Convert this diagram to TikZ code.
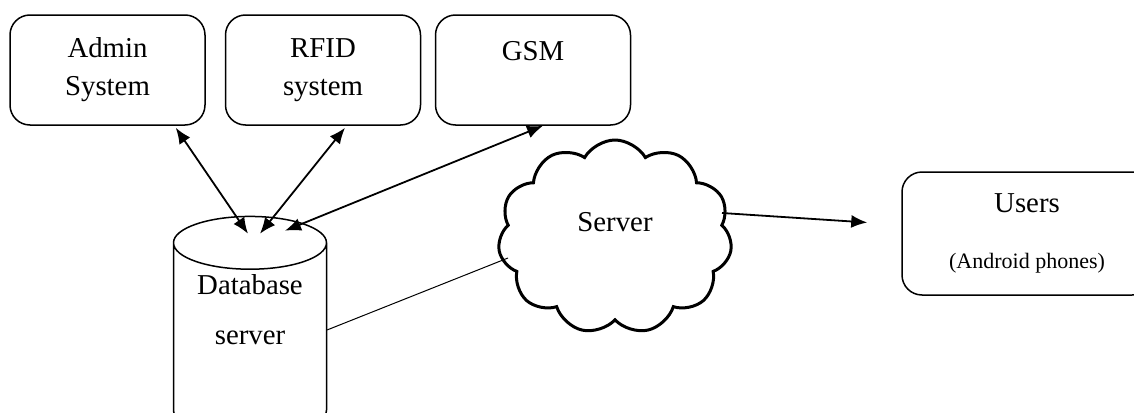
\documentclass[tikz,border=0pt]{standalone}
\usepackage{fontspec}
\setmainfont{Liberation Serif}
\usetikzlibrary{shapes.geometric,shapes.symbols,arrows.meta}

\begin{document}
\begin{tikzpicture}[x=0.5pt, y=-0.5pt, font=\fontsize{14.4}{19}\selectfont]
  \tikzstyle{box} = [rectangle, draw, line width=0.75pt, rounded corners=10pt, align=center,
                     minimum width=97.5pt, minimum height=55pt, inner sep=0pt]
  \tikzstyle{dbase} = [cylinder, shape border rotate=90, draw, line width=0.75pt, aspect=0.5,
                       align=center, minimum width=76.5pt, minimum height=110pt, inner sep=0pt]
  \tikzstyle{net} = [cloud, draw, line width=1.5pt, cloud puffs=11, cloud puff arc=120, aspect=1.2,
                     align=center, minimum width=117pt, minimum height=97pt]
  \tikzstyle{link} = [{Latex[length=8pt,width=6.5pt]}-{Latex[length=8pt,width=6.5pt]}, line width=0.9pt]
\useasboundingbox (0,0) rectangle (1134,412);
\clip (0,0) rectangle (1134,412);
\node[box](admin) at (107.5,70){Admin\\System};
\node[box](rfid) at (323,70){RFID\\system};
\node[box](gsm) at (533,70){GSM\\~};
\node[box, minimum width=125pt, minimum height=61.5pt](users) at (1027,233.5)
  {Users\\[9pt]{\fontsize{11}{13}\selectfont (Android phones)}};
\node[dbase](db) at (250,340){Database\\[6pt]server\\[11pt]~};
\node[net](srv) at (615,237){Server\\[-4pt]~};
\draw[link] ([shift={(-30,2)}]admin.south east) -- ([shift={(-2,18)}]db.north);
\draw[link] ([shift={(22,2)}]rfid.south) -- ([shift={(10,18)}]db.north);
\draw[link] ([shift={(10,0)}]gsm.south) -- ([shift={(35,15)}]db.north);
\draw[line width=0.5pt] ([shift={(77,-10)}]db.center) -- ([shift={(-107,21)}]srv.center);
\draw[-{Latex[length=8pt,width=6.5pt]}, line width=0.9pt] ([shift={(107,-24)}]srv.center) -- ([shift={(-34,-11)}]users.west);
\end{tikzpicture}
\end{document}
